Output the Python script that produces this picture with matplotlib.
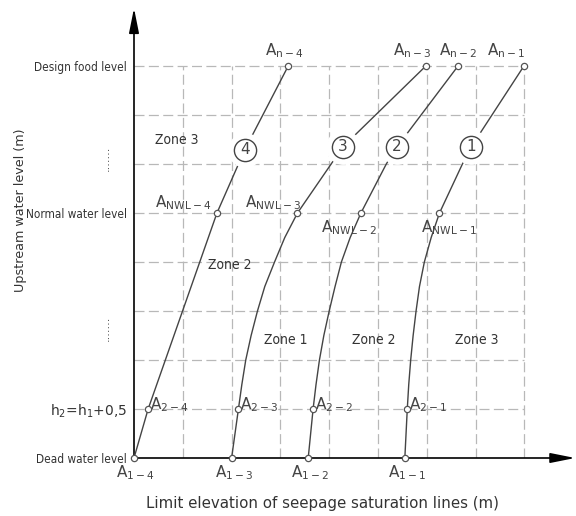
import matplotlib
matplotlib.use("Agg")
import matplotlib.pyplot as plt
from matplotlib import font_manager

# saturation lines (x = limit elevation, y = water level)
y_1 = [0, 1, 1.5, 2, 2.5, 3, 3.5, 4, 4.5, 5, 6, 6.35, 8]
x_1 = [5.55, 5.60, 5.63, 5.67, 5.72, 5.78, 5.85, 5.95, 6.09, 6.26, 6.73, 6.91, 7.99]
y_2 = [0, 1, 1.5, 2, 2.5, 3, 3.5, 4, 4.5, 5, 6, 6.35, 8]
x_2 = [3.57, 3.67, 3.73, 3.80, 3.89, 4.00, 4.12, 4.25, 4.43, 4.65, 5.17, 5.39, 6.64]
y_3 = [0, 1, 1.5, 2, 2.5, 3, 3.5, 4, 4.5, 5, 6, 6.35, 8]
x_3 = [2.00, 2.14, 2.21, 2.29, 2.40, 2.53, 2.68, 2.88, 3.09, 3.35, 4.04, 4.28, 5.98]
y_4 = [0, 1, 5, 6.29, 8]
x_4 = [0.00, 0.29, 1.70, 2.27, 3.16]
curves = [(x_1, y_1), (x_2, y_2), (x_3, y_3), (x_4, y_4)]

# named points A on each line
pt_levels = [0, 1, 5, 8]
pt_names = ["1", "2", "NWL", "n"]

# circled line numbers
circ_x = [6.91, 5.39, 4.28, 2.27]
circ_y = [6.35, 6.35, 6.35, 6.29]
circ_txt = ["1", "2", "3", "4"]

# y axis levels
level_pos = [0, 1, 5, 8]
level_txt = ["Dead water level", r"h$_{\mathregular{2}}$=h$_{\mathregular{1}}$+0,5",
             "Normal water level", "Design food level"]

zone_txt = ["Zone 3", "Zone 2", "Zone 1", "Zone 2", "Zone 3"]
zone_x = [0.88, 1.97, 3.11, 4.92, 7.02]
zone_y = [6.49, 3.94, 2.41, 2.41, 2.41]

# label anchors for the A points, per line, in order of pt_levels
lab_pos = {
    1: [(5.59, -0.29, "center"), (5.64, 1.08, "left"), (6.45, 4.71, "center"), (7.63, 8.31, "center")],
    2: [(3.61, -0.29, "center"), (3.71, 1.08, "left"), (4.41, 4.71, "center"), (6.64, 8.31, "center")],
    3: [(2.05, -0.29, "center"), (2.18, 1.08, "left"), (2.85, 5.22, "center"), (5.70, 8.31, "center")],
    4: [(0.02, -0.29, "center"), (0.33, 1.08, "left"), (1.00, 5.22, "center"), (3.07, 8.31, "center")],
}

# narrow font for the CAD style labels, if one is installed
narrow = None
for f in font_manager.fontManager.ttflist:
    if "Narrow" in f.name or "Condensed" in f.name:
        narrow = dict(family=f.name)
        break
    if f.stretch in ("condensed", "semi-condensed", "extra-condensed"):
        narrow = dict(family=f.name, stretch=f.stretch)
        break
if narrow is None:
    narrow = dict(family="Liberation Sans")

txt_col = "#333333"
grid_col = "#b8b8b8"
line_col = "#444444"

fig = plt.figure(figsize=(5.76, 5.16), dpi=100)
ax = fig.add_axes([134 / 576, 58 / 516, 442 / 576, 458 / 516])
ax.set_xlim(0, 442 / 48.8)
ax.set_ylim(0, 458 / 49)
for s in ax.spines.values():
    s.set_visible(False)
ax.set_xticks([])
ax.patch.set_alpha(0)

# dashed grid
for g in range(1, 9):
    ax.plot([g, g], [0, 8], color=grid_col, lw=0.9, ls=(0, (8, 3.5)), zorder=1)
    ax.plot([0, 8], [g, g], color=grid_col, lw=0.9, ls=(0, (8, 3.5)), zorder=1)

# axes with arrows
arr = dict(arrowstyle="-|>,head_length=1.5,head_width=0.3", color="black",
           lw=1.2, shrinkA=0, shrinkB=0, mutation_scale=10)
ax.annotate("", xy=(9.04, 0), xytext=(0, 0), arrowprops=arr, annotation_clip=False)
ax.annotate("", xy=(0, 9.18), xytext=(0, 0), arrowprops=arr, annotation_clip=False)

# lines, points and labels
for i, (xs, ys) in enumerate(curves):
    n = i + 1
    ax.plot(xs, ys, color=line_col, lw=1.0, zorder=3)
    for k, lv in enumerate(pt_levels):
        j = ys.index(lv)
        ax.plot(xs[j], ys[j], "o", ms=4.5, mfc="white", mec="#555555", mew=0.9,
                zorder=5, clip_on=False)
        lx, ly, ha = lab_pos[n][k]
        ax.text(lx, ly, r"A$_{\mathregular{%s-%d}}$" % (pt_names[k], n),
                fontsize=11, color="#444444", ha=ha, va="center")

for cx, cy, t in zip(circ_x, circ_y, circ_txt):
    ax.plot(cx, cy, "o", ms=24, mfc="white", mec="white", zorder=4)
    ax.plot(cx, cy, "o", ms=16, mfc="white", mec="#444444", mew=1.0, zorder=5)
    ax.text(cx, cy, t, fontsize=11, color="#444444", ha="center", va="center", zorder=6)

for t, zx, zy in zip(zone_txt, zone_x, zone_y):
    ax.text(zx, zy, t, fontsize=10, color=txt_col, ha="center", va="center", **narrow)

# y levels as tick labels
ax.set_yticks(level_pos)
ax.set_yticklabels(level_txt)
ax.tick_params(axis="y", length=0, pad=5, labelcolor=txt_col)
ticks = ax.get_yticklabels()
for k, lab in enumerate(ticks):
    if k == 1:
        lab.set_fontsize(10)
    else:
        lab.set_fontproperties(font_manager.FontProperties(size=12, **narrow))

# dotted "skipped levels" marks
for dy in [6.12, 2.65]:
    ax.text(-0.57, dy, ".......", rotation=90, fontsize=8, color=txt_col,
            ha="center", va="center")

ax.set_xlabel("Limit elevation of seepage saturation lines (m)", fontsize=10.8, color=txt_col)
ax.xaxis.set_label_coords(3.87, -0.78, transform=ax.transData)
ax.set_ylabel("Upstream water level (m)", fontsize=9.2, color=txt_col)
ax.yaxis.set_label_coords(-2.19, 5.06, transform=ax.transData)

# level names must fit between the y label and the axis: size them on
# "Normal water level" and use that size for all three
fig.canvas.draw()
rend = fig.canvas.get_renderer()
w = ticks[2].get_window_extent(rend).width
size = min(12.0, 12.0 * 100 / w)
for k in [0, 2, 3]:
    ticks[k].set_fontsize(size)

fig.savefig("out.png", dpi=100)
